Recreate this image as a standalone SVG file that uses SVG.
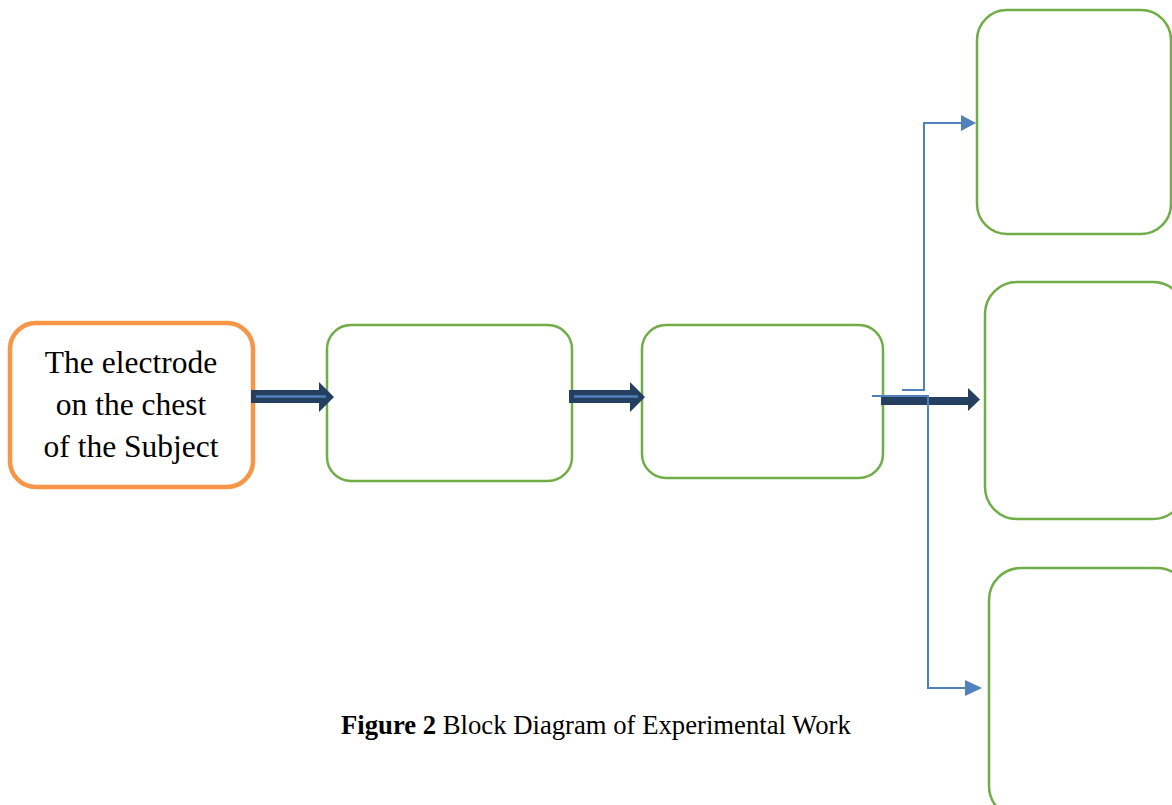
<svg xmlns="http://www.w3.org/2000/svg" width="1172" height="805" viewBox="0 0 1172 805">
<defs>
<style>
.orange{fill:#fff;stroke:#F79646;stroke-width:4.5}
.green{fill:#fff;stroke:#70AD47;stroke-width:2.5}
.lbl{font-family:"Liberation Serif","Times New Roman",serif;font-size:31.5px;fill:#000;text-anchor:middle}
.cap{font-family:"Liberation Serif","Times New Roman",serif;font-size:26.7px;fill:#000}
.thin{fill:none;stroke:#4F81BD;stroke-width:2}
.fat{fill:#243F60}
.inner{stroke:#4F81BD;stroke-width:2.5}
.head{fill:#4F81BD}
</style>
</defs>
<rect width="1172" height="805" fill="#fff"/>
<g id="n1">
<rect class="orange" x="10" y="323" width="243" height="164" rx="26"/>
<text class="lbl" x="131" y="373">The electrode</text>
<text class="lbl" x="131" y="415">on the chest</text>
<text class="lbl" x="131" y="457">of the Subject</text>
</g>
<g id="n2"><rect class="green" x="327" y="325" width="245" height="156" rx="24"/></g>
<g id="n3"><rect class="green" x="642" y="325" width="241" height="153" rx="24"/></g>
<g id="n4"><rect class="green" x="977" y="10" width="194" height="224" rx="30"/></g>
<g id="n5"><rect class="green" x="985" y="282" width="200" height="237" rx="32"/></g>
<g id="n6"><rect class="green" x="989" y="568" width="200" height="250" rx="32"/></g>
<g id="connectors">
<path class="fat" d="M251,390 H319 V382 L334,397 L319,412 V403 H251 Z"/>
<line class="inner" x1="256" y1="396.5" x2="326" y2="396.5"/>
<path class="fat" d="M569,390 H630 V382 L645,397 L630,412 V403 H569 Z"/>
<line class="inner" x1="574" y1="396.5" x2="638" y2="396.5"/>
<path class="fat" d="M881,397 H968 V388 L980,399.5 L968,411 V405 H881 Z"/>
<polyline class="thin" points="902,390 924,390 924,123 963,123"/>
<path class="head" d="M961,115 L976,123 L961,131 Z"/>
<polyline class="thin" points="872,396 928,396 928,688 967,688"/>
<path class="head" d="M965,680 L982,688 L965,696 Z"/>
</g>
<text class="cap" x="341" y="734"><tspan font-weight="bold">Figure 2</tspan> Block Diagram of Experimental Work</text>
</svg>
